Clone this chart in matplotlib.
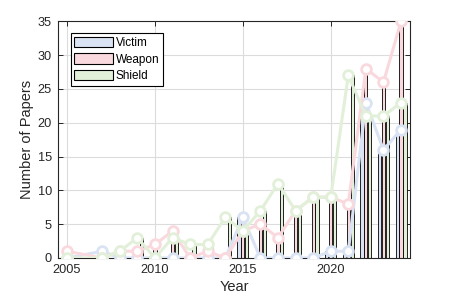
import numpy as np
import matplotlib
matplotlib.use("Agg")
import matplotlib.pyplot as plt

plt.rcParams['font.family'] = ['Liberation Sans', 'DejaVu Sans']

# --- Data ---
years = [2005, 2007, 2008, 2009, 2010, 2011, 2012, 2013, 2014, 2015,
         2016, 2017, 2018, 2019, 2020, 2021, 2022, 2023, 2024]
victim = [0, 1, 0, 0, 0, 0, 0, 0, 0, 6, 0, 0, 0, 0, 1, 1, 23, 16, 19]
weapon = [1, 0, 1, 1, 2, 4, 0, 1, 0, 4, 5, 3, 7, 9, 9, 8, 28, 26, 35]
shield = [0, 0, 1, 3, 0, 3, 2, 2, 6, 4, 7, 11, 7, 9, 9, 27, 21, 21, 23]

labels = ["Victim", "Weapon", "Shield"]
series = [victim, weapon, shield]
colors = ["#DAE3F3", "#F9D9DE", "#E2F0D9"]

x = np.array(years)
offset = 0.222
width = 0.178

# --- Plot ---
fig = plt.figure(figsize=(4.53, 3.0), dpi=100)
ax = fig.add_axes([0.1287, 0.14, 0.776, 0.7887])

bars = []
for i, (vals, col) in enumerate(zip(series, colors)):
    b = ax.bar(x + (i - 1) * offset, vals, width=width, color=col,
               edgecolor="black", linewidth=0.6, zorder=2, label=labels[i])
    bars.append(b)

for vals, col in zip(series, colors):
    ax.plot(x, vals, color=col, linewidth=2.2, marker="o", markersize=7,
            markerfacecolor="white", markeredgecolor=col,
            markeredgewidth=2, zorder=3)

ax.set_xlim(2004.5, 2024.5)
ax.set_ylim(0, 35)
ax.set_xticks([2005, 2010, 2015, 2020])
ax.set_yticks(range(0, 36, 5))
ax.grid(True, color="#dcdcdc", linewidth=0.8, zorder=0)
ax.set_axisbelow(True)

ax.tick_params(direction="in", length=3.5, width=0.7, top=True, right=True,
               labelsize=9.2, colors="#262626", pad=4.5)
for s in ax.spines.values():
    s.set_color("#262626")
    s.set_linewidth(0.8)

ax.set_xlabel("Year", fontsize=10.5, color="#262626", labelpad=3)
ax.set_ylabel("Number of Papers", fontsize=10.5, color="#262626", labelpad=3)

leg = ax.legend(handles=bars, labels=labels, loc="upper left",
                bbox_to_anchor=(0.035, 0.95), borderaxespad=0,
                fontsize=8.5, fancybox=False, framealpha=1,
                edgecolor="black", handlelength=3.3, handleheight=1.0,
                handletextpad=0.2, labelspacing=0.35, borderpad=0.3)
leg.get_frame().set_linewidth(0.8)
for h in leg.legend_handles:
    h.set_edgecolor("black")
    h.set_linewidth(0.8)

fig.savefig("out.png", dpi=100)
